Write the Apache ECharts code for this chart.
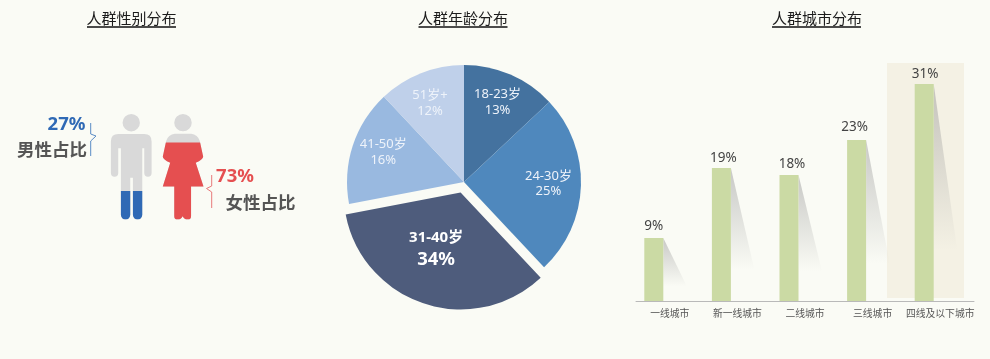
<!DOCTYPE html>
<html>
<head>
<meta charset="utf-8">
<style>html,body{margin:0;padding:0;background:#fafbf5}#c{width:990px;height:359px}</style>
<script src="https://cdn.jsdelivr.net/npm/echarts@6/dist/echarts.min.js"></script>
</head>
<body>
<div id="c"></div>
<script>
const titles = ['人群性别分布', '人群年龄分布', '人群城市分布'];
const genderNames = ['男性占比', '女性占比'];
const genderValues = [27, 73];
const genderFull = [100, 100];
const ageNames = ['18-23岁', '24-30岁', '31-40岁', '41-50岁', '51岁+'];
const ageValues = [13, 25, 34, 16, 12];
const ageColors = ['#44729f', '#4f88bd', '#4e5c7c', '#99b9e0', '#bfd0ea'];
const cityNames = ['一线城市', '新一线城市', '二线城市', '三线城市', '四线及以下城市'];
const cityValues = [9, 19, 18, 23, 31];

const FONT = '"Noto Sans","Noto Sans CJK SC",sans-serif';
const malePath = 'path://M79 18A26 26 0 1 1 79 70A26 26 0 1 1 79 18ZM40 78L118 78Q140 78 140 100L140 194A11 11 0 0 1 118 194L118 120L112 120L112 319A14 14 0 0 1 84 319L84 208L76 208L76 319A14 14 0 0 1 48 319L48 120L40 120L40 194A11 11 0 0 1 18 194L18 100Q18 78 40 78Z';
const femalePath = 'path://M84 19A26 26 0 1 1 84 71A26 26 0 1 1 84 19ZM60 78L108 78Q128 80 134 100L144 146Q144 155 122 165L145 236L108 236L108 325Q108 335 98 335Q88 335 83 325Q78 335 68 335Q58 335 58 325L58 236L24 236L46 165Q24 155 24 146L34 100Q40 80 60 78Z';

const chart = echarts.init(document.getElementById('c'), null, {renderer: 'canvas'});

const titleCenters = [131.5, 463, 817];
const titleOpt = titles.map((t, i) => ({
  text: t, left: titleCenters[i], top: 12, padding: 0, textAlign: 'center',
  textStyle: {fontFamily: FONT, fontSize: 15, fontWeight: 'normal', color: '#1c1c1c'}
}));
const underlines = [[87, 176], [418.5, 507.5], [772, 861]].map(p => ({
  type: 'line', shape: {x1: p[0], y1: 27, x2: p[1], y2: 27},
  style: {stroke: '#111', lineWidth: 1.3}, silent: true
}));
function note(text, x, y, size, color) {
  return {type: 'text', x, y, style: {text, fontFamily: FONT, fontSize: size, fontWeight: 'bold',
    fill: color, align: 'center', verticalAlign: 'middle'}, silent: true};
}
const graphics = underlines.concat([
  {type: 'rect', shape: {x: 887, y: 63, width: 77, height: 235}, style: {fill: '#f4f1e4'}, silent: true, z: 0},
  {type: 'polyline', shape: {points: [[90.7, 123], [90.7, 134], [96, 136], [90.7, 141], [90.7, 156]]},
    style: {stroke: '#5a8cc6', lineWidth: 1, fill: null}, silent: true},
  {type: 'polyline', shape: {points: [[211.7, 175], [211.7, 186], [206.5, 188.5], [211.7, 192], [211.7, 208]]},
    style: {stroke: '#e8797b', lineWidth: 1, fill: null}, silent: true},
  note(genderValues[0] + '%', 66.5, 125, 18.5, '#2f69b5'),
  note(genderNames[0], 52, 151, 17.5, '#555555'),
  note(genderValues[1] + '%', 235, 177, 18.5, '#e54f50'),
  note(genderNames[1], 260.5, 204, 17.5, '#555555')
]);

const coloredFigures = [
  {value: genderValues[0], symbol: malePath, itemStyle: {color: '#2f69b5'}},
  {value: genderValues[1], symbol: femalePath, itemStyle: {color: '#e54f50'}}
];
const grayFigures = [
  {value: genderFull[0], symbol: malePath},
  {value: genderFull[1], symbol: femalePath}
];

const pieNudge = [[-1, 0], [-2.5, -1], [-1, -15], [2, -3], [-2, 2]];
const barNudge = [[0, -1], [2, 1], [3, 0], [-2, -2], [1, 1]];

const option = {
  backgroundColor: '#fafbf5',
  animation: false,
  title: titleOpt,
  graphic: {elements: graphics},
  grid: [
    {left: 105.3, top: 114, width: 103.8, height: 105.5},
    {left: 636, top: 77, width: 338, height: 224}
  ],
  xAxis: [
    {gridIndex: 0, type: 'category', data: genderNames, show: false},
    {gridIndex: 1, type: 'category', data: cityNames,
      axisLine: {show: true, lineStyle: {color: '#b9b9b9', width: 1}},
      axisTick: {show: false},
      axisLabel: {interval: 0, fontFamily: FONT, fontSize: 9.8, color: '#555', margin: 8}}
  ],
  yAxis: [
    {gridIndex: 0, type: 'value', min: 0, max: 100, show: false},
    {gridIndex: 1, type: 'value', min: 0, max: 32, show: false}
  ],
  series: [
    {type: 'pictorialBar', xAxisIndex: 0, yAxisIndex: 0, silent: true, z: 2,
      barGap: '-100%', symbolPosition: 'start', symbolSize: [40.7, 105.5],
      itemStyle: {color: '#d9d9d9'}, data: grayFigures},
    {type: 'pictorialBar', xAxisIndex: 0, yAxisIndex: 0, silent: true, z: 3,
      barGap: '-100%', symbolClip: true, symbolBoundingData: 100, symbolPosition: 'start',
      symbolSize: [40.7, 105.5], data: coloredFigures},
    {type: 'pie', center: [464, 182], radius: [0, 117], startAngle: 90, clockwise: true,
      silent: true, selectedMode: 'single', selectedOffset: 11, label: {show: false}, labelLine: {show: false},
      data: ageNames.map((n, i) => ({name: n, value: ageValues[i], selected: i === 2, itemStyle: {color: ageColors[i]}}))},
    {type: 'pie', center: [464, 182], radius: [51, 117], startAngle: 90, clockwise: true, silent: true, z: 4,
      itemStyle: {color: 'rgba(0,0,0,0)'},
      labelLine: {show: false},
      labelLayout: function (p) { return {dx: pieNudge[p.dataIndex][0], dy: pieNudge[p.dataIndex][1]}; },
      label: {show: true, position: 'inside', formatter: '{b}\n{c}%', fontFamily: FONT, fontSize: 13,
        lineHeight: 15.5, color: '#eef3fa'},
      data: ageNames.map((n, i) => i === 2 ? ({name: n, value: ageValues[i],
        label: {formatter: '{a|{b}}\n{d|{c}%}',
          rich: {a: {fontFamily: FONT, fontSize: 15, fontWeight: 'bold', color: '#fff', lineHeight: 20},
                 d: {fontFamily: FONT, fontSize: 18.5, fontWeight: 'bold', color: '#fff', lineHeight: 24}}}
      }) : ({name: n, value: ageValues[i]}))},
    {type: 'custom', xAxisIndex: 1, yAxisIndex: 1, silent: true, z: 1,
      data: cityValues.map((v, i) => [i, v]),
      renderItem: function (params, api) {
        const top = api.coord([api.value(0), api.value(1)]);
        const base = api.coord([api.value(0), 0]);
        const x = top[0] - 16 + 9.5;
        const h = (base[1] - top[1]) * 0.765;
        return {type: 'polygon', shape: {points: [[x, top[1]], [x + 23.5, top[1] + h], [x, top[1] + h]]},
          style: {fill: new echarts.graphic.LinearGradient(0, 0, 0, 1, [
            {offset: 0, color: 'rgba(150,150,150,0.5)'},
            {offset: 1, color: 'rgba(150,150,150,0)'}])}};
      }},
    {type: 'bar', xAxisIndex: 1, yAxisIndex: 1, silent: true, z: 3, barWidth: 19, barGap: '68.4%',
      itemStyle: {color: '#cbdaa4'},
      labelLayout: function (p) { return {dx: barNudge[p.dataIndex][0], dy: barNudge[p.dataIndex][1]}; },
      label: {show: true, position: 'top', distance: 4, formatter: '{c}%', fontFamily: FONT, fontSize: 13.5, color: '#444'},
      data: cityValues},
    {type: 'bar', xAxisIndex: 1, yAxisIndex: 1, silent: true, barWidth: 19, barGap: '68.4%',
      itemStyle: {opacity: 0}, data: cityValues.map(() => null)}
  ]
};
chart.setOption(option);
</script>
</body>
</html>
